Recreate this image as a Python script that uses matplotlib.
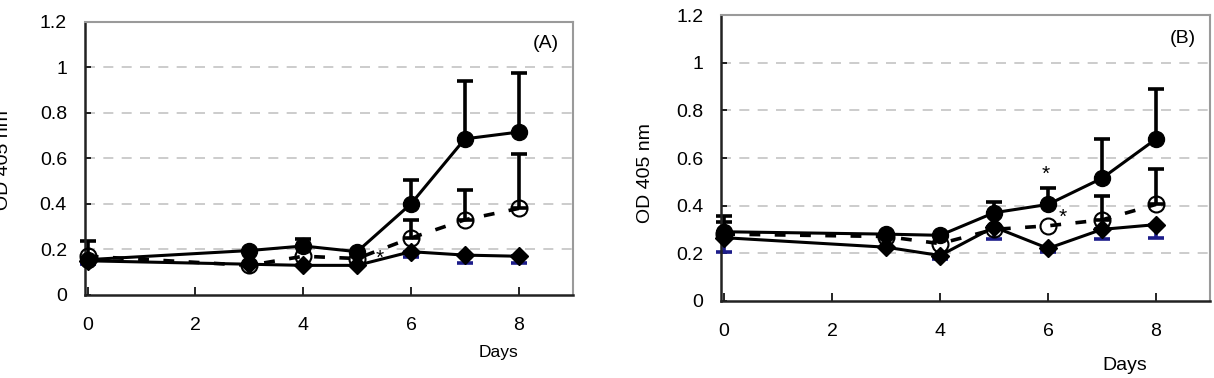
import numpy as np
import matplotlib
matplotlib.use("Agg")
import matplotlib.pyplot as plt

plt.rcParams['font.family'] = ['Liberation Sans', 'DejaVu Sans']

nan = np.nan
days = [0, 3, 4, 5, 6, 7, 8]

# Panel A
A_filled = [0.155, 0.195, 0.215, 0.19, 0.40, 0.685, 0.715]
A_filled_up = [0.235, nan, 0.245, nan, 0.505, 0.94, 0.975]
A_open = [0.17, 0.13, 0.17, 0.16, 0.25, 0.33, 0.38]
A_open_up = [nan, nan, nan, nan, 0.33, 0.46, 0.62]
A_diam = [0.15, 0.135, 0.13, 0.13, 0.19, 0.175, 0.17]
A_diam_low = [0.135, nan, nan, nan, 0.165, 0.14, 0.14]
A_stars = [(5.42, 0.16)]

# Panel B
B_filled = [0.29, 0.28, 0.275, 0.37, 0.405, 0.515, 0.68]
B_filled_up = [0.355, nan, nan, 0.415, 0.475, 0.68, 0.89]
B_open = [0.28, 0.27, 0.24, 0.30, 0.315, 0.34, 0.405]
B_open_up = [0.33, nan, nan, nan, nan, 0.44, 0.555]
B_diam = [0.265, 0.225, 0.19, 0.31, 0.22, 0.30, 0.32]
B_diam_low = [0.205, nan, 0.175, 0.26, 0.205, 0.26, 0.265]
B_stars = [(5.96, 0.53), (6.28, 0.35)]

yticks = [0, 0.2, 0.4, 0.6, 0.8, 1, 1.2]
ytick_labels = ['0', '0.2', '0.4', '0.6', '0.8', '1', '1.2']
xticks = [0, 2, 4, 6, 8]

FS = 14
BLUE = '#1c1c8a'


def errs(ax, x, y, bound, color, up=True):
    x = np.array(x, float); y = np.array(y, float); b = np.array(bound, float)
    m = ~np.isnan(b)
    if up:
        yerr = [np.zeros(m.sum()), b[m] - y[m]]
    else:
        yerr = [y[m] - b[m], np.zeros(m.sum())]
    ax.errorbar(x[m], y[m], yerr=yerr, fmt='none', ecolor=color, elinewidth=2.6,
                capsize=5.5, capthick=2.6, zorder=2, clip_on=False)


def panel(ax, filled, filled_up, opn, opn_up, diam, diam_low, stars, label):
    ax.set_xlim(-0.05, 9)
    ax.set_ylim(0, 1.2)
    for v in yticks[1:-1]:
        ax.axhline(v, color='#c4c4c4', lw=1.2, ls=(0, (6, 5)), zorder=0)
    errs(ax, days, filled, filled_up, 'black', up=True)
    errs(ax, days, opn, opn_up, 'black', up=True)
    errs(ax, days, diam, diam_low, BLUE, up=False)
    ax.plot(days, diam, color='black', lw=2.2, marker='D', ms=9.5, mfc='black', mec='black',
            zorder=3, clip_on=False)
    ax.plot(days, opn, color='black', lw=2.6, ls=(0, (3, 4)), marker='o', ms=11.5,
            mfc='none', mec='black', mew=1.5, zorder=4, clip_on=False)
    ax.plot(days, filled, color='black', lw=2.2, marker='o', ms=11.5, mfc='black', mec='black',
            zorder=5, clip_on=False)
    for sx, sy in stars:
        ax.text(sx, sy, '*', ha='center', va='center', fontsize=15, zorder=6)
    ax.set_xticks(xticks)
    ax.set_xticklabels([str(t) for t in xticks])
    ax.set_yticks(yticks)
    ax.set_yticklabels(ytick_labels)
    ax.tick_params(axis='x', direction='in', length=6, width=1.2, pad=16, labelsize=FS,
                   top=False)
    ax.tick_params(axis='y', direction='in', length=4, width=1.2, pad=13, labelsize=FS,
                   right=False)
    for s in ['left', 'bottom']:
        ax.spines[s].set_color('#222222')
        ax.spines[s].set_linewidth(1.8)
    for s in ['top', 'right']:
        ax.spines[s].set_color('#9a9a9a')
        ax.spines[s].set_linewidth(1.5)
    ax.text(0.945, 0.92, label, transform=ax.transAxes, ha='center', va='center', fontsize=FS)


fig = plt.figure(figsize=(12.14, 3.78), dpi=100)
axA = fig.add_axes([0.0700, 0.2196, 0.4017, 0.7235])
axB = fig.add_axes([0.5943, 0.2045, 0.4024, 0.7548])

panel(axA, A_filled, A_filled_up, A_open, A_open_up, A_diam, A_diam_low, A_stars, '(A)')
panel(axB, B_filled, B_filled_up, B_open, B_open_up, B_diam, B_diam_low, B_stars, '(B)')

fig.text(498 / 1214, 1 - 353 / 378, 'Days', ha='center', va='center', fontsize=12.5)
fig.text(1125 / 1214, 1 - 365 / 378, 'Days', ha='center', va='center', fontsize=FS)
fig.text(4 / 1214, 1 - 160 / 378, 'OD 405 nm', ha='center', va='center', rotation=90, fontsize=FS)
fig.text(645 / 1214, 1 - 173 / 378, 'OD 405 nm', ha='center', va='center', rotation=90, fontsize=FS)

fig.savefig('out.png', dpi=100)
